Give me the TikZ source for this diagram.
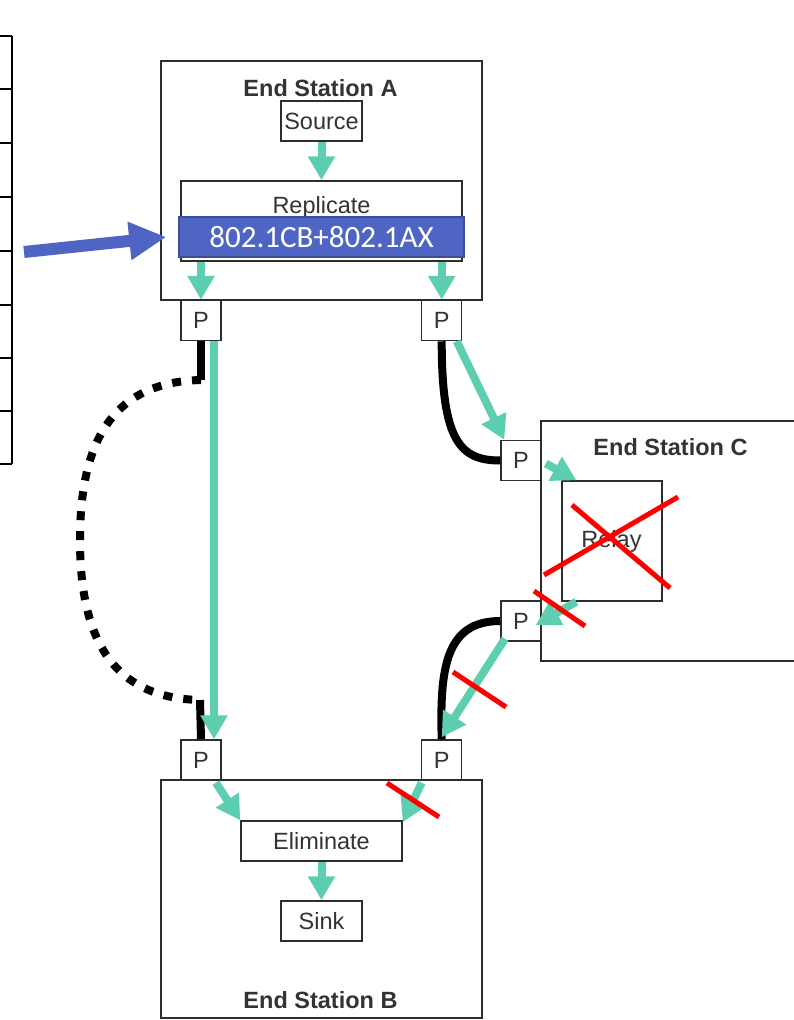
\documentclass[tikz,border=0pt]{standalone}
\usepackage{fontspec}
\setmainfont{Liberation Sans}
\newfontfamily\calibri{Carlito}
\usetikzlibrary{arrows.meta,calc}
\definecolor{flowgreen}{RGB}{94,206,176}
\definecolor{bandblue}{RGB}{78,101,196}
\definecolor{bandedge}{RGB}{58,78,158}
\definecolor{boxgray}{RGB}{45,45,45}
\definecolor{txtgray}{RGB}{51,51,51}
\newcommand\fsz{\fontsize{23.5}{27}\selectfont}
\begin{document}
\begin{tikzpicture}[x=1pt,y=-1pt,
  boxline/.style={draw=boxgray,line width=1.5pt},
  box/.style={boxline,fill=white,inner sep=0pt,text=txtgray,font=\fsz},
  port/.style={box,minimum width=40pt,minimum height=40pt},
  txt/.style={inner sep=0pt,text=txtgray,font=\fsz,anchor=base},
  title/.style={txt,font=\fsz\bfseries},
  flow/.style={draw=flowgreen,line width=8pt,-{Triangle[width=26pt,length=24pt]}},
  link/.style={draw=black,line width=8pt},
  linkdot/.style={link,dash pattern=on 9pt off 11pt},
  cut/.style={draw=red,line width=5pt},
  bluearrow/.style={draw=bandblue,line width=12pt,-{Triangle[width=36pt,length=37pt]}},
  gridline/.style={draw=black,line width=1.5pt}
]
\useasboundingbox (0,0) rectangle (794,1020);

% left table fragment
\draw[gridline] (12,36) -- (12,464);
\foreach \yy in {36,89,143,197,251,305,358,411,464}
  \draw[gridline] (0,\yy) -- (12,\yy);

% End Station A
\node[box,minimum width=321pt,minimum height=239pt] (stA) at (321.5,180.5) {};
\node[title] (tA) at (320.5,96.5) {End Station A};
\node[box,minimum width=81pt,minimum height=40pt] (src) at (321.5,121) {Source};
\node[box,minimum width=281pt,minimum height=80pt] (rep) at (321.5,221) {};
\node[txt] (repT) at (321.5,213) {Replicate};
\node[draw=bandedge,line width=1.5pt,fill=bandblue,inner sep=0pt,
      minimum width=285pt,minimum height=40pt,text=white,
      font=\calibri\fontsize{31}{34}\selectfont] (band) at (321.5,237) {802.1CB+802.1AX};

% End Station C
\draw[boxline,fill=white] (794,421) -- (541,421) -- (541,661) -- (794,661);
\node[title] (tC) at (670.5,455) {End Station C};
\node[box,minimum width=100pt,minimum height=120pt] (relay) at (612,541) {};
\node[txt] (relayT) at (611.5,547) {Relay};

% End Station B
\node[box,minimum width=321pt,minimum height=238pt] (stB) at (321.5,899) {};
\node[title] (tB) at (320.5,1008) {End Station B};
\node[box,minimum width=161pt,minimum height=40pt] (elim) at (321.5,841) {Eliminate};
\node[box,minimum width=81pt,minimum height=40pt] (sink) at (321.5,921) {Sink};

% ports
\node[port] (PA1) at (201,320.5) {P};
\node[port] (PA2) at (441.7,320.5) {P};
\node[port] (PC1) at (521,460.5) {P};
\node[port] (PC2) at (521,621) {P};
\node[port] (PB1) at (201,760) {P};
\node[port] (PB2) at (441.7,760) {P};

% black physical links
\coordinate (d1) at (201,380);
\coordinate (d2) at (200,700);
\draw[link] (PA1.south) -- (d1);
\draw[linkdot] (d1) .. controls (110,382) and (80,445) .. (80,540)
                   .. controls (80,635) and (110,698) .. (d2);
\draw[link] (d2) -- (PB1.north);
\draw[link] (PA2.south) .. controls ($(PA2.south)+(0,100)$) and ($(PC1.west)+(-40,0)$) .. (PC1.west);
\draw[link] (PC2.west) .. controls ($(PC2.west)+(-55,0)$) and ($(PB2.north)+(-2,-70)$) .. (PB2.north);

% green flows
\draw[flow] (src.south) -- (rep.north);
\draw[flow] (PA1.north |- rep.south) -- (PA1.north);
\draw[flow] (PA2.north |- rep.south) -- (PA2.north);
\draw[flow] ($(PA1.south)+(13,0)$) -- ($(PB1.north)+(13,0)$);
\draw[flow] ($(PA2.south)+(15,0)$) -- ($(PC1.north west)+(4,0)$);
\draw[flow] ($(PC1.east)+(4,3)$) -- ($(relay.north west)+(15,0)$);
\draw[flow] ($(relay.south west)+(15,0)$) -- ($(PC2.east)+(-6,4)$);
\draw[flow] ($(PC2.south)+(-16,-3)$) -- ($(PB2.north)+(0,-2)$);
\draw[flow] ($(PB1.south)+(15,2)$) -- (elim.north west);
\draw[flow] ($(PB2.south)+(-20,2)$) -- ($(elim.north east)+(0,2)$);
\draw[flow] (elim.south) -- (sink.north);

% blue arrow
\coordinate (bt) at (24,252);
\draw[bluearrow] (bt) -- ($(band.west)+(-12,0)$);

% red cuts
\draw[cut] (572,505) -- (670,588);
\draw[cut] (544,575) -- (678,497);
\draw[cut] (534,591) -- (585,626);
\draw[cut] (453,672) -- (506,707);
\draw[cut] (387,783) -- (439,817);
\end{tikzpicture}
\end{document}
